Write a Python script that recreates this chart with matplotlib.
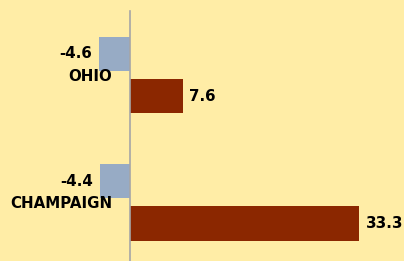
import numpy as np
import matplotlib
matplotlib.use('Agg')
import matplotlib.pyplot as plt

### data
categories = ['OHIO', 'CHAMPAIGN']
change_a = [-4.6, -4.4]
change_b = [7.6, 33.3]

### style
bg = '#FFEDA6'
col_a = '#97ABC5'
col_b = '#8B2700'
fs = 10.8
plt.rcParams['font.family'] = ['DejaVu Sans']

fig = plt.figure(figsize=(4.04, 2.61), dpi=100, facecolor=bg)
ax = fig.add_axes([0, 0, 1, 1], facecolor=bg)

y = np.arange(len(categories))
h = 0.267
off = 0.165
bars_a = ax.barh(y - off, change_a, height=h, color=col_a)
bars_b = ax.barh(y + off, change_b, height=h, color=col_b)

ax.bar_label(bars_a, fmt='%.1f', padding=5, fontsize=fs, fontweight='bold')
ax.bar_label(bars_b, fmt='%.1f', padding=5, fontsize=fs, fontweight='bold')

### axes
ax.set_xlim(-19.05, 39.93)
ax.set_ylim(1.459, -0.588)
ax.axvline(0, ymin=0, ymax=0.958, color='#A6A6A6', lw=1.2)
ax.set_yticks(y, categories, fontsize=fs, fontweight='bold')
ax.tick_params(axis='y', length=0, pad=13.3)
ax.tick_params(axis='x', bottom=False, labelbottom=False)
# tick labels sit inside the figure, so put them at the zero line
for lbl in ax.get_yticklabels():
    lbl.set_transform(lbl.get_transform() + matplotlib.transforms.ScaledTranslation(130.5 / 100, 0, fig.dpi_scale_trans))
for s in ax.spines.values():
    s.set_visible(False)

plt.savefig('out.png', dpi=100, facecolor=bg)
